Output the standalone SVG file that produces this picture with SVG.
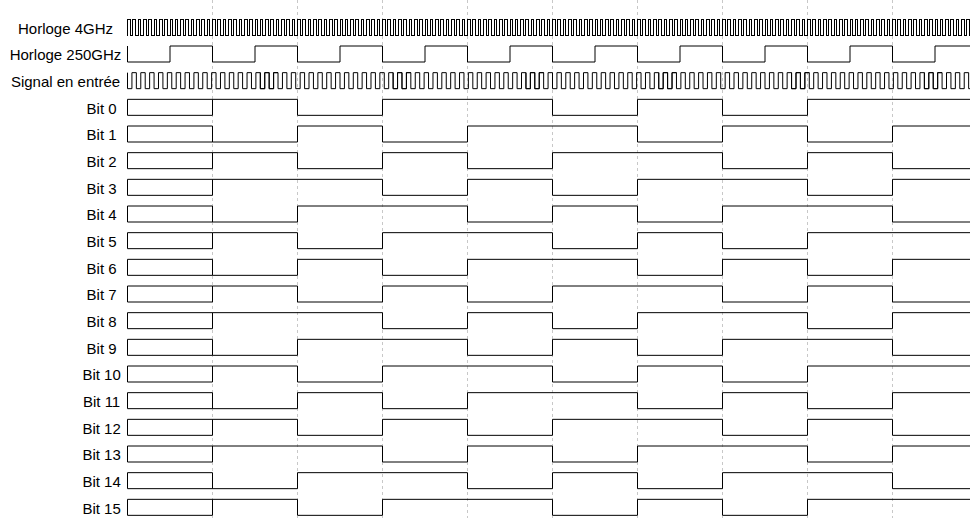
<svg xmlns="http://www.w3.org/2000/svg" xmlns:xlink="http://www.w3.org/1999/xlink" width="970" height="518" viewBox="0 0 970 518">
<style>
.w{fill:none;stroke:#000;stroke-width:1}
.crisp{shape-rendering:crispEdges}
.grid line{stroke:#c8c8c8;stroke-width:1;stroke-dasharray:3 3}
text{font-family:"Liberation Sans",Arial,sans-serif;font-size:15px;fill:#000;text-anchor:middle}
</style>
<defs>
<path id="c4" class="w" d="M0,16V0h2.65625V16h2.65625V0h2.65625V16h2.65625V0h2.65625V16h2.65625V0h2.65625V16h2.65625V0h2.65625V16h2.65625V0h2.65625V16h2.65625V0h2.65625V16h2.65625V0h2.65625V16h2.65625V0h2.65625V16h2.65625V0h2.65625V16h2.65625V0h2.65625V16h2.65625V0h2.65625V16h2.65625V0h2.65625V16h2.65625V0h2.65625V16h2.65625V0h2.65625V16h2.65625V0h2.65625V16h2.65625"/>
<path id="sg" class="w" d="M0,0V16h4.4270833V0h4.4270833V16h4.4270833V0h4.4270833V16h4.4270833V0h4.4270833V16h4.4270833V0h4.4270833V16h4.4270833V0h4.4270833V16h4.4270833V0h4.4270833V16h4.4270833V0h4.4270833V16h4.4270833V0h4.4270833V16h4.4270833V0h4.4270833V16h4.4270833V0h4.4270833V16h4.4270833V0h4.4270833V16h4.4270833V0h4.4270833V16h4.4270833V0h4.4270833V16h4.4270833V0h4.4270833V16h4.4270833V0h4.4270833V16h4.4270833V0h4.4270833V16h4.4270833V0h4.4270833"/>
<path id="b0" class="w" d="M127.5,0H212.5V16H127.5ZM212.5,0H297.5V16H382.5V0H552.5V16H637.5V0H722.5V16H807.5V0H970"/>
<path id="b1" class="w" d="M127.5,0H212.5V16H127.5ZM212.5,16H297.5V0H382.5V16H467.5V0H637.5V16H722.5V0H807.5V16H892.5V0H970"/>
<path id="b2" class="w" d="M127.5,0H212.5V16H127.5ZM212.5,0H297.5V16H382.5V0H467.5V16H552.5V0H722.5V16H807.5V0H892.5V16H970"/>
<path id="b3" class="w" d="M127.5,0H212.5V16H127.5ZM212.5,0H382.5V16H467.5V0H552.5V16H637.5V0H807.5V16H892.5V0H970"/>
<path id="b4" class="w" d="M127.5,0H212.5V16H127.5ZM212.5,16H297.5V0H467.5V16H552.5V0H637.5V16H722.5V0H892.5V16H970"/>
</defs>
<rect width="970" height="518" fill="#fff"/>
<g id="grid" class="grid">
<line x1="212.5" y1="0" x2="212.5" y2="518"/>
<line x1="297.5" y1="0" x2="297.5" y2="518"/>
<line x1="382.5" y1="0" x2="382.5" y2="518"/>
<line x1="467.5" y1="0" x2="467.5" y2="518"/>
<line x1="552.5" y1="0" x2="552.5" y2="518"/>
<line x1="637.5" y1="0" x2="637.5" y2="518"/>
<line x1="722.5" y1="0" x2="722.5" y2="518"/>
<line x1="807.5" y1="0" x2="807.5" y2="518"/>
<line x1="892.5" y1="0" x2="892.5" y2="518"/>
</g>
<g id="clk4ghz" transform="translate(0,19.5)">
<text x="65.5" y="14.1">Horloge 4GHz</text>
<g class="crisp">
<use xlink:href="#c4" x="127.5"/><use xlink:href="#c4" x="212.5"/><use xlink:href="#c4" x="297.5"/><use xlink:href="#c4" x="382.5"/><use xlink:href="#c4" x="467.5"/><use xlink:href="#c4" x="552.5"/><use xlink:href="#c4" x="637.5"/><use xlink:href="#c4" x="722.5"/><use xlink:href="#c4" x="807.5"/><use xlink:href="#c4" x="892.5"/>
</g>
</g>
<g id="clk250ghz" transform="translate(0,46)">
<text x="65.5" y="14.3">Horloge 250GHz</text>
<path class="w" d="M127.5,0V16H170V0H212.5V16H255V0H297.5V16H340V0H382.5V16H425V0H467.5V16H510V0H552.5V16H595V0H637.5V16H680V0H722.5V16H765V0H807.5V16H850V0H892.5V16H935V0H970"/>
</g>
<g id="signal" transform="translate(0,72.67)">
<text x="65.5" y="14.3">Signal en entrée</text>
<use xlink:href="#sg" x="127.5"/><use xlink:href="#sg" x="260.3125"/><use xlink:href="#sg" x="393.125"/><use xlink:href="#sg" x="525.9375"/><use xlink:href="#sg" x="658.75"/><use xlink:href="#sg" x="791.5625"/><use xlink:href="#sg" x="924.375"/>
</g>
<g id="bit0" transform="translate(0,99.33)"><text x="101.6" y="14.3">Bit 0</text><use xlink:href="#b0"/></g>
<g id="bit1" transform="translate(0,126)"><text x="101.6" y="14.3">Bit 1</text><use xlink:href="#b1"/></g>
<g id="bit2" transform="translate(0,152.67)"><text x="101.6" y="14.3">Bit 2</text><use xlink:href="#b2"/></g>
<g id="bit3" transform="translate(0,179.33)"><text x="101.6" y="14.3">Bit 3</text><use xlink:href="#b3"/></g>
<g id="bit4" transform="translate(0,206)"><text x="101.6" y="14.3">Bit 4</text><use xlink:href="#b4"/></g>
<g id="bit5" transform="translate(0,232.67)"><text x="101.6" y="14.3">Bit 5</text><use xlink:href="#b0"/></g>
<g id="bit6" transform="translate(0,259.33)"><text x="101.6" y="14.3">Bit 6</text><use xlink:href="#b1"/></g>
<g id="bit7" transform="translate(0,286)"><text x="101.6" y="14.3">Bit 7</text><use xlink:href="#b2"/></g>
<g id="bit8" transform="translate(0,312.67)"><text x="101.6" y="14.3">Bit 8</text><use xlink:href="#b3"/></g>
<g id="bit9" transform="translate(0,339.33)"><text x="101.6" y="14.3">Bit 9</text><use xlink:href="#b4"/></g>
<g id="bit10" transform="translate(0,366)"><text x="101.6" y="14.3">Bit 10</text><use xlink:href="#b0"/></g>
<g id="bit11" transform="translate(0,392.67)"><text x="101.6" y="14.3">Bit 11</text><use xlink:href="#b1"/></g>
<g id="bit12" transform="translate(0,419.33)"><text x="101.6" y="14.3">Bit 12</text><use xlink:href="#b2"/></g>
<g id="bit13" transform="translate(0,446)"><text x="101.6" y="14.3">Bit 13</text><use xlink:href="#b3"/></g>
<g id="bit14" transform="translate(0,472.67)"><text x="101.6" y="14.3">Bit 14</text><use xlink:href="#b4"/></g>
<g id="bit15" transform="translate(0,499.33)"><text x="101.6" y="14.3">Bit 15</text><use xlink:href="#b0"/></g>
</svg>
